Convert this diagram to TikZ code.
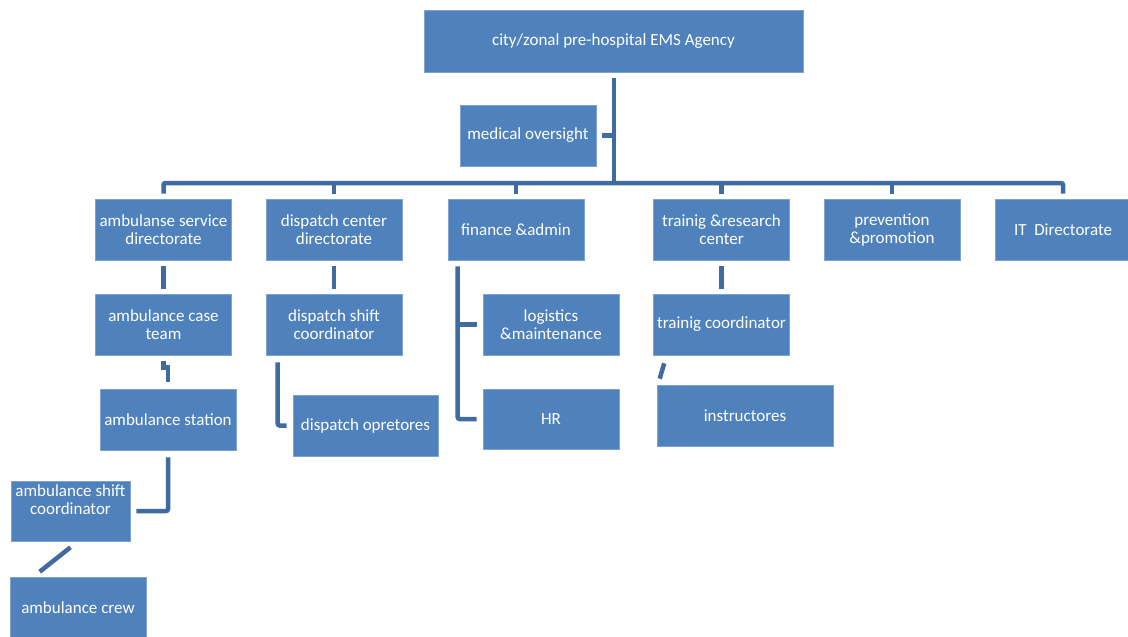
\documentclass[tikz,border=0pt]{standalone}
\usepackage{fontspec}
\setmainfont{Carlito}
\definecolor{boxblue}{HTML}{4F81BD}
\definecolor{boxedge}{HTML}{7FA3D0}
\definecolor{linkblue}{HTML}{3F6B9F}
\begin{document}
\begin{tikzpicture}[x=1pt,y=-1pt,
  box/.style={rectangle, fill=boxblue, draw=boxedge, line width=0.6pt,
    minimum width=136pt, minimum height=61pt, inner sep=0pt,
    text=white, align=center, font=\fontsize{17}{18}\selectfont},
  conn/.style={draw=linkblue, line width=4.5pt},
  elbow/.style={conn, rounded corners=2pt}]
\useasboundingbox (0,0) rectangle (1128,637);
\fill[white] (0,0) rectangle (1128,637);

% nodes
\node[box, minimum width=379pt, minimum height=62pt] (top) at (613.5,41) {city/zonal pre-hospital EMS Agency};
\node[box] (med) at (528,135.5) {medical oversight};

\node[box] (asd) at (163.5,229.5) {ambulanse service\\directorate};
\node[box] (dcd) at (334,229.5) {dispatch center\\directorate};
\node[box] (fin) at (516,229.5) {finance \&admin};
\node[box] (trc) at (721.5,229.5) {trainig \&research\\center};
\node[box] (ppr) at (892,229.5) {prevention\\\&promotion};
\node[box] (it) at (1063,229.5) {IT~~Directorate};

\node[box] (act) at (163.5,324.5) {ambulance case\\team};
\node[box] (dsc) at (334,324.5) {dispatch shift\\coordinator};
\node[box] (log) at (551,324.5) {logistics\\\&maintenance};
\node[box] (tco) at (721.5,324.5) {trainig coordinator};

\node[box, minimum height=60pt] (hr) at (551,419) {HR};
\node[box] (ast) at (168,419.5) {ambulance station};
\node[box, minimum width=145pt] (dop) at (365.5,425.5) {dispatch opretores};
\node[box, minimum width=176pt] (ins) at (745,415.5) {instructores};

\node[box, minimum width=119pt, minimum height=60pt,
  label={[anchor=north, yshift=-0.5pt, align=center, text=white,
    font=\fontsize{17}{18}\selectfont]north:ambulance shift\\coordinator}] (asc) at (70.5,511) {};
\node[box] (crew) at (78,607.5) {ambulance crew};

\coordinate (bus) at (614,183);

% trunk and bus
\draw[conn] ([yshift=-6pt]top.south -| bus) -- (bus);
\draw[conn] ([xshift=6pt]med.east) -- (med.east -| bus);
\draw[elbow] ([yshift=5pt]asd.north) -- (asd.north |- bus) -- (it.north |- bus) -- ([yshift=5pt]it.north);
\draw[conn] ([yshift=5pt]dcd.north) -- (dcd.north |- bus);
\draw[conn] ([yshift=5pt]fin.north) -- (fin.north |- bus);
\draw[conn] ([yshift=5pt]trc.north) -- (trc.north |- bus);
\draw[conn] ([yshift=5pt]ppr.north) -- (ppr.north |- bus);

% level 2 -> 3
\draw[conn] ([yshift=-6pt]asd.south) -- ([yshift=5pt]act.north);
\draw[conn] ([yshift=-6pt]dcd.south) -- ([yshift=5pt]dsc.north);
\draw[conn] ([yshift=-6pt]trc.south) -- ([yshift=5pt]tco.north);

% finance branch
\coordinate (fv) at ([xshift=10pt]fin.south west);
\draw[elbow] ([yshift=-6pt]fv) |- ([xshift=-6pt]hr.west);
\draw[conn] (fv |- log.west) -- ([xshift=-6pt]log.west);

% ambulance chain
\coordinate (kink) at ([yshift=-12pt]act.south);
\draw[conn] ([yshift=-6pt]act.south) -- (kink) -- (kink -| ast.north) -- ([yshift=7pt]ast.north);
\draw[elbow] ([yshift=-7pt]ast.south) |- ([xshift=6pt]asc.east);
\draw[conn] ([yshift=-6pt]asc.south) -- ([xshift=30pt,yshift=5pt]crew.north west);

% dispatch chain
\draw[elbow] ([xshift=12pt,yshift=-7pt]dsc.south west) |- ([xshift=-6pt]dop.west);

% training chain
\draw[conn] ([xshift=11pt,yshift=-8pt]tco.south west) -- ([xshift=3pt,yshift=6pt]ins.north west);
\end{tikzpicture}
\end{document}
